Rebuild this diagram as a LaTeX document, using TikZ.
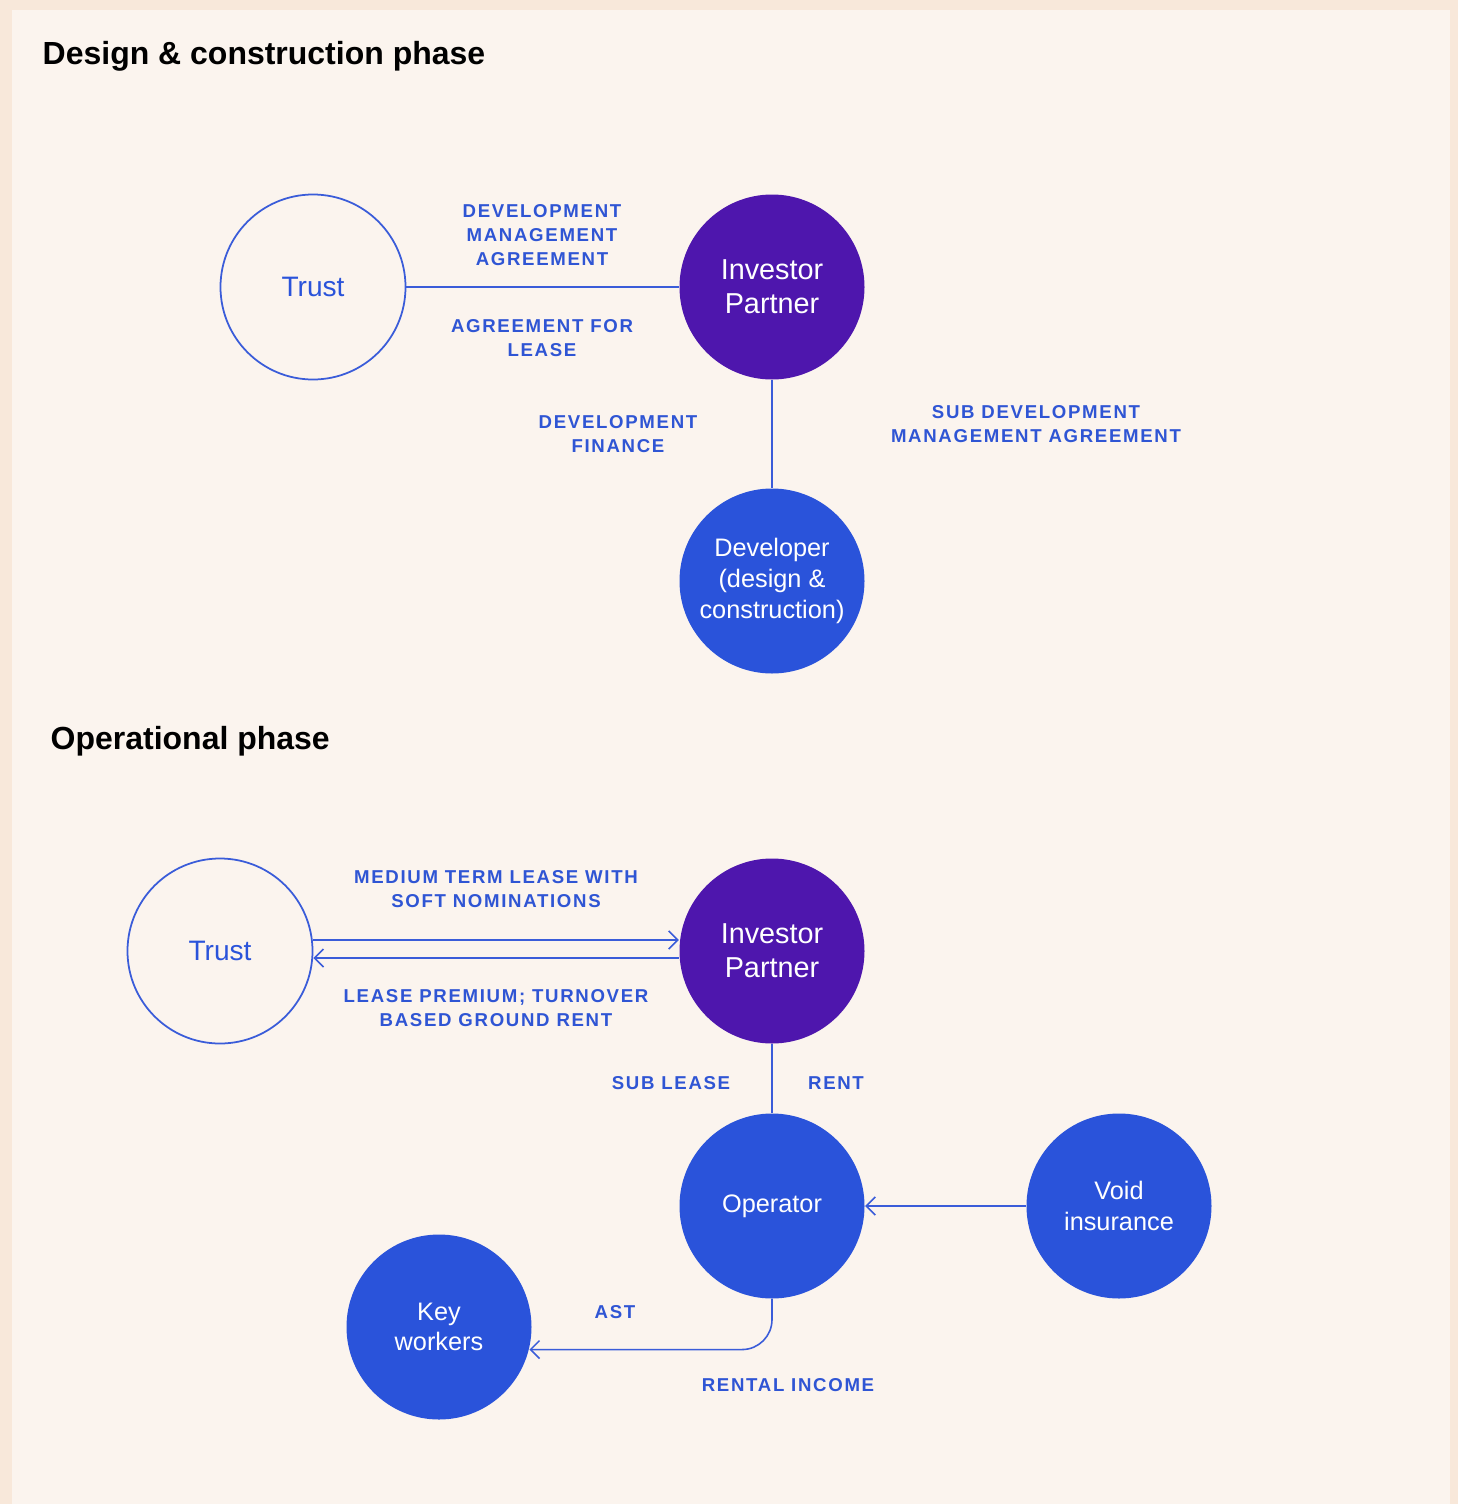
\documentclass[tikz,border=0pt]{standalone}
\usepackage{fontspec}
\setmainfont{Liberation Sans}
\newfontfamily\capsfont{Liberation Sans}[LetterSpace=9]
\usetikzlibrary{arrows.meta,calc,positioning}

\definecolor{paper}{HTML}{FBF4EE}
\definecolor{paperedge}{HTML}{F8E8DA}
\definecolor{partnerpurple}{HTML}{4E16AD}
\definecolor{nodeblue}{HTML}{2A53DA}
\definecolor{labelblue}{HTML}{2F55D4}
\definecolor{linkblue}{HTML}{3A5CD9}

\begin{document}
\begin{tikzpicture}[x=1.0cm,y=1.0cm,
    party/.style={circle,minimum size=1.85cm,inner sep=0pt,align=center},
    trust/.style={party,draw=linkblue,line width=0.5pt,text=nodeblue,font=\fontsize{8}{9.7}\selectfont},
    partner/.style={party,fill=partnerpurple,text=white,font=\fontsize{8.2}{9.7}\selectfont},
    actor/.style={party,fill=nodeblue,text=white,font=\fontsize{7.2}{8.7}\selectfont},
    lab/.style={text=labelblue,align=center,inner sep=0pt,font=\capsfont\bfseries\fontsize{5.3}{6.8}\selectfont},
    heading/.style={anchor=base west,inner sep=0pt,font=\bfseries\fontsize{9.1}{11}\selectfont},
    link/.style={draw=linkblue,line width=0.45pt},
    flow/.style={link,-{Straight Barb[length=0.9mm,width=1.8mm]}}]
  % page
  \fill[paperedge] (0,0) rectangle (14.58,-15.04);
  \fill[paper] (0.12,-0.10) rectangle (14.50,-15.04);

  % design & construction phase
  \node[heading] (headA) at (0.42,-0.64) {Design \& construction phase};
  \node[trust]   (trustA) at (3.13,-2.87) {Trust};
  \node[partner] (ipA)    at (7.72,-2.87) {Investor\\Partner};
  \node[actor]   (devA)   at (7.72,-5.81) {Developer\\(design \&\\construction)};
  \draw[link] (trustA) -- (ipA);
  \draw[link] (ipA) -- (devA);
  \node[lab] (dma) at (5.42,-2.35) {DEVELOPMENT\\MANAGEMENT\\AGREEMENT};
  \node[lab] (afl) at (5.42,-3.38) {AGREEMENT FOR\\LEASE};
  \node[lab] (dfin) at (6.18,-4.34) {DEVELOPMENT\\FINANCE};
  \node[lab] (sdma) at (10.36,-4.24) {SUB DEVELOPMENT\\MANAGEMENT AGREEMENT};

  % operational phase
  \node[heading] (headB) at (0.50,-7.49) {Operational phase};
  \node[trust]   (trustB) at (2.20,-9.51) {Trust};
  \node[partner] (ipB)    at (7.72,-9.51) {Investor\\Partner};
  \node[actor]   (opB)    at (7.72,-12.06) {Operator};
  \node[actor]   (voidB)  at (11.19,-12.06) {Void\\insurance};
  \node[actor]   (keyB)   at (4.39,-13.27) {Key\\workers};
  \draw[flow] ([yshift=1.1mm]trustB.east) -- ([yshift=1.1mm]ipB.west);
  \draw[flow] ([yshift=-0.7mm]ipB.west) -- ([yshift=-0.7mm]trustB.east);
  \draw[link] (ipB) -- (opB);
  \draw[flow] (voidB) -- (opB);
  \draw[flow,rounded corners=0.3cm] (opB.south) |- (keyB.-14);
  \node[lab] (mtl) at (4.96,-8.89) {MEDIUM TERM LEASE WITH\\SOFT NOMINATIONS};
  \node[lab] (lpr) at (4.96,-10.08) {LEASE PREMIUM; TURNOVER\\BASED GROUND RENT};
  \node[lab] (subl) at (6.71,-10.83) {SUB LEASE};
  \node[lab] (rent) at (8.36,-10.83) {RENT};
  \node[lab] (ast) at (6.15,-13.12) {AST};
  \node[lab] (rinc) at (7.88,-13.85) {RENTAL INCOME};
\end{tikzpicture}
\end{document}
